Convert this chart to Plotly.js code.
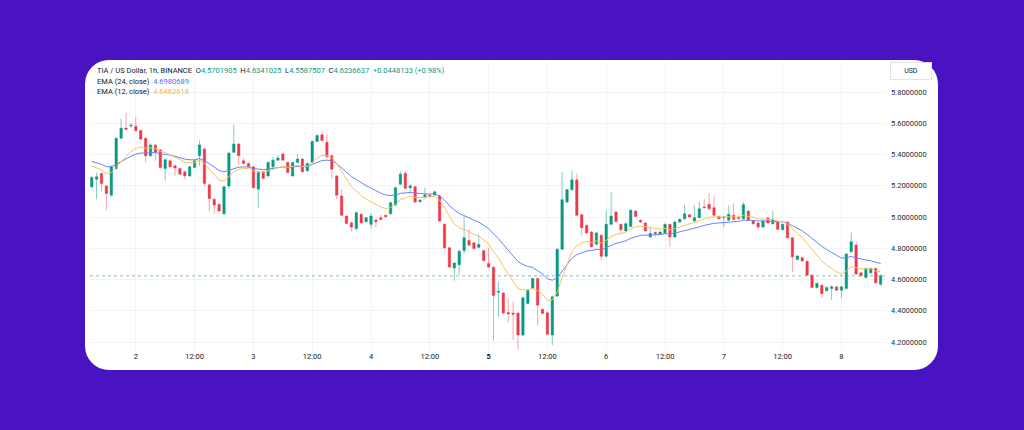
<!DOCTYPE html>
<html><head><meta charset="utf-8">
<script src="https://cdn.plot.ly/plotly-3.0.1.min.js"></script>
<style>
html,body{margin:0;padding:0;width:1024px;height:430px;background:#4a13c1;overflow:hidden;}
#card{position:absolute;left:85px;top:60px;width:853px;height:310px;background:#ffffff;border-radius:24px;}
#chart{position:absolute;left:0;top:0;width:1024px;height:430px;}
</style></head><body>
<div id="card"></div><div id="chart"></div>
<script>
// ---- data (hourly candles, TIA / US Dollar, 1h, BINANCE) ----
const startTime = "2024-07-01T15:00:00Z";
const opens = [5.193,5.242,5.278,5.199,5.139,5.311,5.504,5.570,5.583,5.581,5.553,5.504,5.392,5.461,5.429,5.311,5.360,5.328,5.311,5.289,
5.263,5.317,5.392,5.435,5.206,5.113,5.081,5.021,5.199,5.414,5.467,5.360,5.343,5.321,5.178,5.289,5.263,5.321,5.364,5.403,
5.349,5.263,5.349,5.371,5.296,5.349,5.484,5.527,5.478,5.392,5.263,5.135,5.006,4.963,4.927,5.017,4.970,4.953,4.981,4.996,
5.011,5.021,5.077,5.210,5.279,5.188,5.193,5.098,5.128,5.139,5.141,5.135,4.953,4.803,4.674,4.695,4.785,4.850,4.835,4.807,
4.785,4.702,4.678,4.518,4.513,4.389,4.385,4.385,4.245,4.447,4.543,4.606,4.409,4.387,4.245,4.494,4.794,5.096,5.175,5.238,
5.015,4.947,4.904,4.826,4.883,4.749,4.953,5.032,4.953,4.911,4.940,5.038,4.979,4.962,4.872,4.902,4.889,4.898,4.953,4.872,
4.968,4.989,5.015,4.975,4.996,5.064,5.081,5.060,5.004,4.994,4.979,5.011,5.000,4.989,5.038,4.975,4.962,4.936,4.994,4.957,
4.968,4.919,4.968,4.868,4.728,4.740,4.717,4.628,4.549,4.564,4.528,4.543,4.553,4.532,4.543,4.778,4.821,4.643,4.613,4.643,
4.671,4.5701905];
const highs = [5.262,5.285,5.285,5.205,5.330,5.510,5.628,5.666,5.600,5.639,5.560,5.510,5.470,5.470,5.435,5.375,5.370,5.335,5.315,5.295,
5.330,5.370,5.489,5.445,5.210,5.120,5.085,5.200,5.415,5.591,5.475,5.377,5.350,5.330,5.290,5.295,5.355,5.386,5.396,5.418,
5.355,5.355,5.403,5.378,5.350,5.490,5.531,5.549,5.531,5.400,5.270,5.178,5.010,4.970,5.035,5.022,5.000,5.028,4.991,5.013,
5.015,5.098,5.195,5.291,5.291,5.210,5.200,5.112,5.188,5.145,5.170,5.140,4.960,4.810,4.710,4.790,5.006,4.921,4.840,4.888,
4.790,4.803,4.685,4.588,4.520,4.481,4.460,4.390,4.490,4.540,4.612,4.612,4.415,4.393,4.495,4.800,5.287,5.180,5.298,5.277,
5.020,4.952,4.910,4.904,4.890,5.043,5.160,5.040,4.958,4.968,5.050,5.043,4.985,4.967,4.936,4.906,4.910,4.960,4.958,4.975,
4.990,5.079,5.020,5.075,5.096,5.117,5.153,5.138,5.010,5.005,5.075,5.085,5.005,5.096,5.043,4.980,4.967,4.980,5.000,5.038,
4.973,4.958,4.973,4.873,4.756,4.745,4.722,4.633,4.580,4.569,4.554,4.564,4.558,4.558,4.770,4.900,4.842,4.648,4.676,4.676,
4.676,4.6341025];
const lows = [5.185,5.113,5.167,5.043,5.130,5.300,5.500,5.555,5.570,5.548,5.490,5.349,5.385,5.360,5.310,5.236,5.315,5.263,5.268,5.242,
5.258,5.310,5.328,5.199,5.038,5.021,5.030,5.015,5.178,5.410,5.334,5.338,5.315,5.180,5.060,5.240,5.258,5.315,5.360,5.360,
5.280,5.258,5.345,5.283,5.290,5.345,5.480,5.485,5.380,5.242,5.113,5.005,4.955,4.910,4.914,4.958,4.965,4.927,4.936,4.974,
4.998,5.015,5.070,5.205,5.178,5.150,5.090,5.094,5.113,5.125,5.136,4.968,4.795,4.675,4.593,4.631,4.764,4.815,4.793,4.800,
4.715,4.675,4.207,4.363,4.378,4.327,4.213,4.149,4.240,4.440,4.538,4.309,4.378,4.243,4.181,4.489,4.789,5.090,5.170,5.005,
4.877,4.893,4.804,4.820,4.723,4.744,4.948,4.967,4.898,4.905,4.935,5.000,4.962,4.905,4.868,4.870,4.885,4.893,4.809,4.866,
4.963,4.984,4.995,4.970,4.991,5.055,5.048,5.006,4.984,4.936,4.974,4.980,4.984,4.984,4.974,4.952,4.921,4.930,4.957,4.952,
4.916,4.914,4.862,4.649,4.723,4.714,4.623,4.544,4.544,4.485,4.523,4.468,4.527,4.479,4.538,4.773,4.630,4.619,4.608,4.638,
4.575,4.5587507];
const closes = [5.253,5.257,5.214,5.150,5.321,5.504,5.568,5.561,5.587,5.553,5.499,5.392,5.461,5.414,5.317,5.366,5.321,5.313,5.274,5.263,
5.321,5.360,5.461,5.214,5.118,5.077,5.038,5.193,5.409,5.467,5.392,5.343,5.321,5.188,5.285,5.248,5.349,5.364,5.377,5.364,
5.285,5.349,5.371,5.289,5.343,5.484,5.521,5.489,5.386,5.306,5.139,5.011,4.959,4.936,5.028,4.963,4.996,5.006,4.970,4.985,
5.002,5.092,5.188,5.274,5.184,5.199,5.096,5.107,5.141,5.131,5.161,4.974,4.803,4.680,4.706,4.781,4.867,4.820,4.798,4.824,
4.721,4.680,4.498,4.524,4.385,4.380,4.378,4.245,4.483,4.532,4.606,4.436,4.383,4.249,4.489,4.794,5.111,5.175,5.238,5.011,
4.932,4.898,4.809,4.898,4.749,4.953,5.006,4.972,4.919,4.957,5.043,5.004,4.968,4.911,4.894,4.894,4.904,4.953,4.872,4.968,
4.985,5.021,5.000,4.996,5.053,5.060,5.053,5.011,4.989,5.000,5.017,4.985,4.989,5.079,4.979,4.957,4.936,4.975,4.962,4.985,
4.921,4.953,4.868,4.745,4.751,4.719,4.628,4.549,4.575,4.511,4.549,4.553,4.532,4.553,4.763,4.842,4.635,4.624,4.671,4.671,
4.5788504,4.6236637];
// EMA starting values read at the first candle
const ema24Seed = 5.356;
const ema12Seed = 5.328;
const ema24Legend = "4.6980689";
const ema12Legend = "4.6462618";
// x-axis ticks
const tickTimes = ["2024-07-02 00:00","2024-07-02 12:00","2024-07-03 00:00","2024-07-03 12:00","2024-07-04 00:00","2024-07-04 12:00",
"2024-07-05 00:00","2024-07-05 12:00","2024-07-06 00:00","2024-07-06 12:00","2024-07-07 00:00","2024-07-07 12:00","2024-07-08 00:00"];
const tickLabels = ["2","12:00","3","12:00","4","12:00","<b>5</b>","12:00","6","12:00","7","12:00","8"];
const priceTicks = [4.2,4.4,4.6,4.8,5.0,5.2,5.4,5.6,5.8];

// ---- build ----
const H = 3600e3;
const t0 = Date.parse(startTime);
const fmt = ms => new Date(ms).toISOString().slice(0,16).replace('T',' ');
const times = closes.map((_, i) => fmt(t0 + i*H));
function ema(vals, n, seed){
  const a = 2/(n+1); const out=[]; let e = seed;
  vals.forEach((v,i)=>{ e = i===0 ? seed : a*v + (1-a)*e; out.push(e); });
  return out;
}
const e24 = ema(closes, 24, ema24Seed);
const e12 = ema(closes, 12, ema12Seed);
const GREEN='#089981', RED='#f23645', FONT='Roboto, "Open Sans", sans-serif';
const n = closes.length;
const last = n-1;
const chg = closes[last]-closes[last-1];
const pct = chg/closes[last-1]*100;
const g = s => '<span style="color:'+GREEN+'">'+s+'</span>';
const sp = '\u00A0\u00A0';
const header = 'TIA / US Dollar, 1h, BINANCE'+sp+'O'+g(opens[last].toFixed(7))+sp+'H'+g(highs[last].toFixed(7))+sp+'L'+g(lows[last].toFixed(7))+sp+'C'+g(closes[last].toFixed(7))+sp+g((chg>=0?'+':'')+chg.toFixed(7)+' ('+(pct>=0?'+':'')+pct.toFixed(2)+'%)');

const traces = [
 {type:'scatter', mode:'lines', x:times, y:e24, line:{color:'#6584ff', width:1}, hoverinfo:'skip'},
 {type:'scatter', mode:'lines', x:times, y:e12, line:{color:'#f9c35a', width:1}, hoverinfo:'skip'},
 {type:'candlestick', x:times, open:opens, high:highs, low:lows, close:closes, whiskerwidth:0,
  increasing:{line:{color:'rgba(8,153,129,0.5)',width:1}, fillcolor:GREEN},
  decreasing:{line:{color:'rgba(242,54,69,0.45)',width:1}, fillcolor:RED}, hoverinfo:'skip'}
];
const layout = {
 width:1024, height:430, paper_bgcolor:'rgba(0,0,0,0)', plot_bgcolor:'rgba(0,0,0,0)',
 margin:{l:90, r:138, t:62, b:80}, showlegend:false, font:{family:FONT, size:7.5, color:'#131722'},
 xaxis:{type:'date', range:[fmt(t0-0.35*H), fmt(t0+(n-1+1.1)*H)], tickmode:'array', tickvals:tickTimes, ticktext:tickLabels,
   showgrid:true, gridcolor:'#f0f3fa', zeroline:false, showline:false, ticks:'', rangeslider:{visible:false},
   tickfont:{family:FONT, size:7.5, color:'#131722'}},
 yaxis:{side:'right', range:[4.149,5.992], tickmode:'array', tickvals:priceTicks, tickformat:'.7f',
   showgrid:true, gridcolor:'#f0f3fa', zeroline:false, showline:false, ticks:'', ticklabelstandoff:4,
   tickfont:{family:FONT, size:7.5, color:'#2a2e39'}},
 shapes:[{type:'line', xref:'paper', x0:0, x1:1, yref:'y', y0:closes[last], y1:closes[last], line:{color:'rgba(8,153,129,0.55)', width:1, dash:'dot'}}],
 annotations:[
  {xref:'paper', yref:'paper', x:0.0063, y:0.972, xanchor:'left', yanchor:'middle', showarrow:false, text:header, font:{family:FONT,size:7.5,color:'#131722'}},
  {xref:'paper', yref:'paper', x:0.0063, y:0.934, xanchor:'left', yanchor:'middle', showarrow:false, text:'EMA (24, close)'+sp+'<span style="color:#4f6fff">'+ema24Legend+'</span>', font:{family:FONT,size:7.5,color:'#131722'}},
  {xref:'paper', yref:'paper', x:0.0063, y:0.899, xanchor:'left', yanchor:'middle', showarrow:false, text:'EMA (12, close)'+sp+'<span style="color:#f5b43c">'+ema12Legend+'</span>', font:{family:FONT,size:7.5,color:'#131722'}},
  {xref:'paper', yref:'paper', x:1.031, y:0.969, xanchor:'center', yanchor:'middle', showarrow:false, text:'USD', width:36, height:12,
   bordercolor:'#e0e3eb', borderwidth:1, borderpad:2, bgcolor:'#ffffff', font:{family:FONT,size:7,color:'#131722'}}
 ]
};
Plotly.newPlot('chart', traces, layout, {staticPlot:true, displayModeBar:false});
</script>
</body></html>
